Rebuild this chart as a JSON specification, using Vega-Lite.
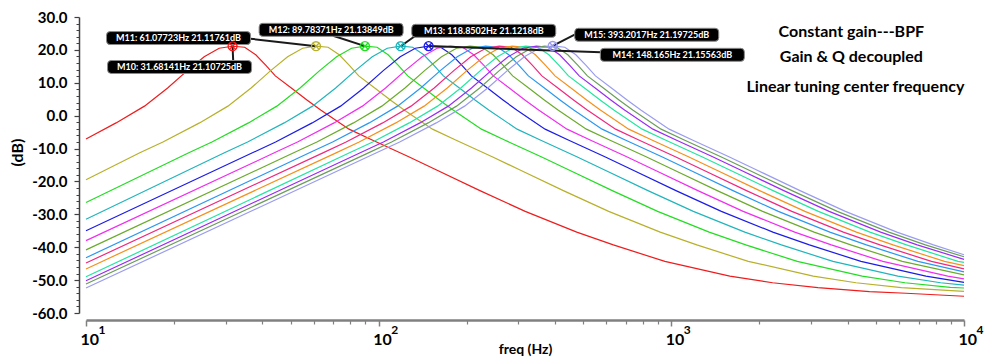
{
"$schema": "https://vega.github.io/schema/vega-lite/v6.json",
"width": 878, "height": 296,
"autosize": {"type": "none"},
"padding": {"left": 86, "top": 17, "right": 24, "bottom": 47},
"background": "white",
"config": {"view": {"stroke": null}, "font": "Lato", "axis": {"grid": false}},
"datasets": {
"curves": [
{"c":"c01","f":10,"db":-7.1},{"c":"c01","f":12.67,"db":-2.2},{"c":"c01","f":15.84,"db":2.9},{"c":"c01","f":19.01,"db":8.4},{"c":"c01","f":22.18,"db":13.7},{"c":"c01","f":25.34,"db":17.9},{"c":"c01","f":28.51,"db":20.5},{"c":"c01","f":31.68,"db":21.11},{"c":"c01","f":34.85,"db":20.8},{"c":"c01","f":38.02,"db":18.5},{"c":"c01","f":41.18,"db":15.3},{"c":"c01","f":44.35,"db":12.1},{"c":"c01","f":50.69,"db":8.2},{"c":"c01","f":57.02,"db":4.7},{"c":"c01","f":63.36,"db":1.7},{"c":"c01","f":79.2,"db":-4.1},{"c":"c01","f":95.04,"db":-7.4},{"c":"c01","f":126.7,"db":-12.5},{"c":"c01","f":158.4,"db":-16.6},{"c":"c01","f":221.8,"db":-22.8},{"c":"c01","f":316.8,"db":-29.1},{"c":"c01","f":475.2,"db":-35.4},{"c":"c01","f":633.6,"db":-39.3},{"c":"c01","f":950.4,"db":-44.3},{"c":"c01","f":1584,"db":-48.8},{"c":"c01","f":2218,"db":-50.8},{"c":"c01","f":3168,"db":-52.3},{"c":"c01","f":4752,"db":-53.5},{"c":"c01","f":6336,"db":-54.0},{"c":"c01","f":10000,"db":-54.9},
{"c":"c02","f":10,"db":-19.5},{"c":"c02","f":15.27,"db":-11.3},{"c":"c02","f":18.32,"db":-8.0},{"c":"c02","f":24.43,"db":-2.2},{"c":"c02","f":30.54,"db":2.9},{"c":"c02","f":36.65,"db":8.4},{"c":"c02","f":42.76,"db":13.7},{"c":"c02","f":48.86,"db":17.9},{"c":"c02","f":54.97,"db":20.5},{"c":"c02","f":61.08,"db":21.12},{"c":"c02","f":67.19,"db":20.8},{"c":"c02","f":73.3,"db":18.5},{"c":"c02","f":79.4,"db":15.3},{"c":"c02","f":85.51,"db":12.1},{"c":"c02","f":97.73,"db":8.2},{"c":"c02","f":109.9,"db":4.7},{"c":"c02","f":122.2,"db":1.7},{"c":"c02","f":152.7,"db":-4.1},{"c":"c02","f":183.2,"db":-7.4},{"c":"c02","f":244.3,"db":-12.5},{"c":"c02","f":305.4,"db":-16.6},{"c":"c02","f":427.6,"db":-22.8},{"c":"c02","f":610.8,"db":-29.1},{"c":"c02","f":916.2,"db":-35.4},{"c":"c02","f":1222,"db":-39.3},{"c":"c02","f":1832,"db":-44.3},{"c":"c02","f":3054,"db":-48.8},{"c":"c02","f":4276,"db":-50.8},{"c":"c02","f":6108,"db":-52.3},{"c":"c02","f":10000,"db":-53.4},
{"c":"c03","f":10,"db":-26.4},{"c":"c03","f":22.45,"db":-11.3},{"c":"c03","f":26.93,"db":-8.0},{"c":"c03","f":35.91,"db":-2.2},{"c":"c03","f":44.89,"db":2.9},{"c":"c03","f":53.87,"db":8.4},{"c":"c03","f":62.85,"db":13.7},{"c":"c03","f":71.82,"db":17.9},{"c":"c03","f":80.8,"db":20.5},{"c":"c03","f":89.78,"db":21.14},{"c":"c03","f":98.76,"db":20.8},{"c":"c03","f":107.7,"db":18.5},{"c":"c03","f":116.7,"db":15.3},{"c":"c03","f":125.7,"db":12.1},{"c":"c03","f":143.6,"db":8.2},{"c":"c03","f":161.6,"db":4.7},{"c":"c03","f":179.6,"db":1.7},{"c":"c03","f":224.5,"db":-4.1},{"c":"c03","f":269.3,"db":-7.4},{"c":"c03","f":359.1,"db":-12.5},{"c":"c03","f":448.9,"db":-16.6},{"c":"c03","f":628.5,"db":-22.8},{"c":"c03","f":897.8,"db":-29.1},{"c":"c03","f":1347,"db":-35.4},{"c":"c03","f":1796,"db":-39.3},{"c":"c03","f":2693,"db":-44.3},{"c":"c03","f":4489,"db":-48.8},{"c":"c03","f":6285,"db":-50.8},{"c":"c03","f":8978,"db":-52.2},{"c":"c03","f":10000,"db":-52.4},
{"c":"c04","f":10,"db":-31.5},{"c":"c04","f":29.71,"db":-11.3},{"c":"c04","f":35.66,"db":-8.0},{"c":"c04","f":47.54,"db":-2.2},{"c":"c04","f":59.43,"db":2.9},{"c":"c04","f":71.31,"db":8.4},{"c":"c04","f":83.2,"db":13.7},{"c":"c04","f":95.08,"db":17.9},{"c":"c04","f":107,"db":20.5},{"c":"c04","f":118.85,"db":21.12},{"c":"c04","f":130.7,"db":20.8},{"c":"c04","f":142.6,"db":18.5},{"c":"c04","f":154.5,"db":15.3},{"c":"c04","f":166.4,"db":12.1},{"c":"c04","f":190.2,"db":8.2},{"c":"c04","f":213.9,"db":4.7},{"c":"c04","f":237.7,"db":1.7},{"c":"c04","f":297.1,"db":-4.1},{"c":"c04","f":356.6,"db":-7.4},{"c":"c04","f":475.4,"db":-12.5},{"c":"c04","f":594.3,"db":-16.6},{"c":"c04","f":832,"db":-22.8},{"c":"c04","f":1189,"db":-29.1},{"c":"c04","f":1783,"db":-35.4},{"c":"c04","f":2377,"db":-39.3},{"c":"c04","f":3566,"db":-44.3},{"c":"c04","f":5943,"db":-48.8},{"c":"c04","f":8320,"db":-50.8},{"c":"c04","f":10000,"db":-51.5},
{"c":"c05","f":10,"db":-35.0},{"c":"c05","f":37.04,"db":-11.3},{"c":"c05","f":44.45,"db":-8.0},{"c":"c05","f":59.27,"db":-2.2},{"c":"c05","f":74.09,"db":2.9},{"c":"c05","f":88.9,"db":8.4},{"c":"c05","f":103.7,"db":13.7},{"c":"c05","f":118.5,"db":17.9},{"c":"c05","f":133.4,"db":20.5},{"c":"c05","f":148.17,"db":21.16},{"c":"c05","f":163,"db":20.8},{"c":"c05","f":177.8,"db":18.5},{"c":"c05","f":192.6,"db":15.3},{"c":"c05","f":207.4,"db":12.1},{"c":"c05","f":237.1,"db":8.2},{"c":"c05","f":266.7,"db":4.7},{"c":"c05","f":296.3,"db":1.7},{"c":"c05","f":370.4,"db":-4.1},{"c":"c05","f":444.5,"db":-7.4},{"c":"c05","f":592.7,"db":-12.5},{"c":"c05","f":740.9,"db":-16.6},{"c":"c05","f":1037,"db":-22.8},{"c":"c05","f":1482,"db":-29.1},{"c":"c05","f":2223,"db":-35.4},{"c":"c05","f":2963,"db":-39.3},{"c":"c05","f":4445,"db":-44.3},{"c":"c05","f":7409,"db":-48.8},{"c":"c05","f":10000,"db":-50.7},
{"c":"c06","f":10,"db":-38.0},{"c":"c06","f":44,"db":-11.3},{"c":"c06","f":52.8,"db":-8.0},{"c":"c06","f":70.4,"db":-2.2},{"c":"c06","f":88,"db":2.9},{"c":"c06","f":105.6,"db":8.4},{"c":"c06","f":123.2,"db":13.7},{"c":"c06","f":140.8,"db":17.9},{"c":"c06","f":158.4,"db":20.5},{"c":"c06","f":176,"db":21.15},{"c":"c06","f":193.6,"db":20.8},{"c":"c06","f":211.2,"db":18.5},{"c":"c06","f":228.8,"db":15.3},{"c":"c06","f":246.4,"db":12.1},{"c":"c06","f":281.6,"db":8.2},{"c":"c06","f":316.8,"db":4.7},{"c":"c06","f":352,"db":1.7},{"c":"c06","f":440,"db":-4.1},{"c":"c06","f":528,"db":-7.4},{"c":"c06","f":704,"db":-12.5},{"c":"c06","f":880,"db":-16.6},{"c":"c06","f":1232,"db":-22.8},{"c":"c06","f":1760,"db":-29.1},{"c":"c06","f":2640,"db":-35.4},{"c":"c06","f":3520,"db":-39.3},{"c":"c06","f":5280,"db":-44.3},{"c":"c06","f":8800,"db":-48.8},{"c":"c06","f":10000,"db":-49.6},
{"c":"c07","f":10,"db":-40.8},{"c":"c07","f":51.25,"db":-11.3},{"c":"c07","f":61.5,"db":-8.0},{"c":"c07","f":82,"db":-2.2},{"c":"c07","f":102.5,"db":2.9},{"c":"c07","f":123,"db":8.4},{"c":"c07","f":143.5,"db":13.7},{"c":"c07","f":164,"db":17.9},{"c":"c07","f":184.5,"db":20.5},{"c":"c07","f":205,"db":21.15},{"c":"c07","f":225.5,"db":20.8},{"c":"c07","f":246,"db":18.5},{"c":"c07","f":266.5,"db":15.3},{"c":"c07","f":287,"db":12.1},{"c":"c07","f":328,"db":8.2},{"c":"c07","f":369,"db":4.7},{"c":"c07","f":410,"db":1.7},{"c":"c07","f":512.5,"db":-4.1},{"c":"c07","f":615,"db":-7.4},{"c":"c07","f":820,"db":-12.5},{"c":"c07","f":1025,"db":-16.6},{"c":"c07","f":1435,"db":-22.8},{"c":"c07","f":2050,"db":-29.1},{"c":"c07","f":3075,"db":-35.4},{"c":"c07","f":4100,"db":-39.3},{"c":"c07","f":6150,"db":-44.3},{"c":"c07","f":10000,"db":-48.4},
{"c":"c08","f":10,"db":-43.2},{"c":"c08","f":58,"db":-11.3},{"c":"c08","f":69.6,"db":-8.0},{"c":"c08","f":92.8,"db":-2.2},{"c":"c08","f":116,"db":2.9},{"c":"c08","f":139.2,"db":8.4},{"c":"c08","f":162.4,"db":13.7},{"c":"c08","f":185.6,"db":17.9},{"c":"c08","f":208.8,"db":20.5},{"c":"c08","f":232,"db":21.15},{"c":"c08","f":255.2,"db":20.8},{"c":"c08","f":278.4,"db":18.5},{"c":"c08","f":301.6,"db":15.3},{"c":"c08","f":324.8,"db":12.1},{"c":"c08","f":371.2,"db":8.2},{"c":"c08","f":417.6,"db":4.7},{"c":"c08","f":464,"db":1.7},{"c":"c08","f":580,"db":-4.1},{"c":"c08","f":696,"db":-7.4},{"c":"c08","f":928,"db":-12.5},{"c":"c08","f":1160,"db":-16.6},{"c":"c08","f":1624,"db":-22.8},{"c":"c08","f":2320,"db":-29.1},{"c":"c08","f":3480,"db":-35.4},{"c":"c08","f":4640,"db":-39.3},{"c":"c08","f":6960,"db":-44.3},{"c":"c08","f":10000,"db":-47.5},
{"c":"c09","f":10,"db":-44.8},{"c":"c09","f":64.5,"db":-11.3},{"c":"c09","f":77.4,"db":-8.0},{"c":"c09","f":103.2,"db":-2.2},{"c":"c09","f":129,"db":2.9},{"c":"c09","f":154.8,"db":8.4},{"c":"c09","f":180.6,"db":13.7},{"c":"c09","f":206.4,"db":17.9},{"c":"c09","f":232.2,"db":20.5},{"c":"c09","f":258,"db":21.15},{"c":"c09","f":283.8,"db":20.8},{"c":"c09","f":309.6,"db":18.5},{"c":"c09","f":335.4,"db":15.3},{"c":"c09","f":361.2,"db":12.1},{"c":"c09","f":412.8,"db":8.2},{"c":"c09","f":464.4,"db":4.7},{"c":"c09","f":516,"db":1.7},{"c":"c09","f":645,"db":-4.1},{"c":"c09","f":774,"db":-7.4},{"c":"c09","f":1032,"db":-12.5},{"c":"c09","f":1290,"db":-16.6},{"c":"c09","f":1806,"db":-22.8},{"c":"c09","f":2580,"db":-29.1},{"c":"c09","f":3870,"db":-35.4},{"c":"c09","f":5160,"db":-39.3},{"c":"c09","f":7740,"db":-44.3},{"c":"c09","f":10000,"db":-46.6},
{"c":"c10","f":10,"db":-46.6},{"c":"c10","f":71.5,"db":-11.3},{"c":"c10","f":85.8,"db":-8.0},{"c":"c10","f":114.4,"db":-2.2},{"c":"c10","f":143,"db":2.9},{"c":"c10","f":171.6,"db":8.4},{"c":"c10","f":200.2,"db":13.7},{"c":"c10","f":228.8,"db":17.9},{"c":"c10","f":257.4,"db":20.5},{"c":"c10","f":286,"db":21.15},{"c":"c10","f":314.6,"db":20.8},{"c":"c10","f":343.2,"db":18.5},{"c":"c10","f":371.8,"db":15.3},{"c":"c10","f":400.4,"db":12.1},{"c":"c10","f":457.6,"db":8.2},{"c":"c10","f":514.8,"db":4.7},{"c":"c10","f":572,"db":1.7},{"c":"c10","f":715,"db":-4.1},{"c":"c10","f":858,"db":-7.4},{"c":"c10","f":1144,"db":-12.5},{"c":"c10","f":1430,"db":-16.6},{"c":"c10","f":2002,"db":-22.8},{"c":"c10","f":2860,"db":-29.1},{"c":"c10","f":4290,"db":-35.4},{"c":"c10","f":5720,"db":-39.3},{"c":"c10","f":8580,"db":-44.3},{"c":"c10","f":10000,"db":-45.6},
{"c":"c11","f":10,"db":-49.0},{"c":"c11","f":79.5,"db":-11.3},{"c":"c11","f":95.4,"db":-8.0},{"c":"c11","f":127.2,"db":-2.2},{"c":"c11","f":159,"db":2.9},{"c":"c11","f":190.8,"db":8.4},{"c":"c11","f":222.6,"db":13.7},{"c":"c11","f":254.4,"db":17.9},{"c":"c11","f":286.2,"db":20.5},{"c":"c11","f":318,"db":21.15},{"c":"c11","f":349.8,"db":20.8},{"c":"c11","f":381.6,"db":18.5},{"c":"c11","f":413.4,"db":15.3},{"c":"c11","f":445.2,"db":12.1},{"c":"c11","f":508.8,"db":8.2},{"c":"c11","f":572.4,"db":4.7},{"c":"c11","f":636,"db":1.7},{"c":"c11","f":795,"db":-4.1},{"c":"c11","f":954,"db":-7.4},{"c":"c11","f":1272,"db":-12.5},{"c":"c11","f":1590,"db":-16.6},{"c":"c11","f":2226,"db":-22.8},{"c":"c11","f":3180,"db":-29.1},{"c":"c11","f":4770,"db":-35.4},{"c":"c11","f":6360,"db":-39.3},{"c":"c11","f":9540,"db":-44.3},{"c":"c11","f":10000,"db":-44.6},
{"c":"c12","f":10,"db":-50.2},{"c":"c12","f":86.5,"db":-11.3},{"c":"c12","f":103.8,"db":-8.0},{"c":"c12","f":138.4,"db":-2.2},{"c":"c12","f":173,"db":2.9},{"c":"c12","f":207.6,"db":8.4},{"c":"c12","f":242.2,"db":13.7},{"c":"c12","f":276.8,"db":17.9},{"c":"c12","f":311.4,"db":20.5},{"c":"c12","f":346,"db":21.15},{"c":"c12","f":380.6,"db":20.8},{"c":"c12","f":415.2,"db":18.5},{"c":"c12","f":449.8,"db":15.3},{"c":"c12","f":484.4,"db":12.1},{"c":"c12","f":553.6,"db":8.2},{"c":"c12","f":622.8,"db":4.7},{"c":"c12","f":692,"db":1.7},{"c":"c12","f":865,"db":-4.1},{"c":"c12","f":1038,"db":-7.4},{"c":"c12","f":1384,"db":-12.5},{"c":"c12","f":1730,"db":-16.6},{"c":"c12","f":2422,"db":-22.8},{"c":"c12","f":3460,"db":-29.1},{"c":"c12","f":5190,"db":-35.4},{"c":"c12","f":6920,"db":-39.3},{"c":"c12","f":10000,"db":-43.7},
{"c":"c13","f":10,"db":-51.2},{"c":"c13","f":92.25,"db":-11.3},{"c":"c13","f":110.7,"db":-8.0},{"c":"c13","f":147.6,"db":-2.2},{"c":"c13","f":184.5,"db":2.9},{"c":"c13","f":221.4,"db":8.4},{"c":"c13","f":258.3,"db":13.7},{"c":"c13","f":295.2,"db":17.9},{"c":"c13","f":332.1,"db":20.5},{"c":"c13","f":369,"db":21.15},{"c":"c13","f":405.9,"db":20.8},{"c":"c13","f":442.8,"db":18.5},{"c":"c13","f":479.7,"db":15.3},{"c":"c13","f":516.6,"db":12.1},{"c":"c13","f":590.4,"db":8.2},{"c":"c13","f":664.2,"db":4.7},{"c":"c13","f":738,"db":1.7},{"c":"c13","f":922.5,"db":-4.1},{"c":"c13","f":1107,"db":-7.4},{"c":"c13","f":1476,"db":-12.5},{"c":"c13","f":1845,"db":-16.6},{"c":"c13","f":2583,"db":-22.8},{"c":"c13","f":3690,"db":-29.1},{"c":"c13","f":5535,"db":-35.4},{"c":"c13","f":7380,"db":-39.3},{"c":"c13","f":10000,"db":-42.9},
{"c":"c14","f":10,"db":-52.4},{"c":"c14","f":98.3,"db":-11.3},{"c":"c14","f":118,"db":-8.0},{"c":"c14","f":157.3,"db":-2.2},{"c":"c14","f":196.6,"db":2.9},{"c":"c14","f":235.9,"db":8.4},{"c":"c14","f":275.2,"db":13.7},{"c":"c14","f":314.6,"db":17.9},{"c":"c14","f":353.9,"db":20.5},{"c":"c14","f":393.2,"db":21.2},{"c":"c14","f":432.5,"db":20.8},{"c":"c14","f":471.8,"db":18.5},{"c":"c14","f":511.2,"db":15.3},{"c":"c14","f":550.5,"db":12.1},{"c":"c14","f":629.1,"db":8.2},{"c":"c14","f":707.8,"db":4.7},{"c":"c14","f":786.4,"db":1.7},{"c":"c14","f":983,"db":-4.1},{"c":"c14","f":1180,"db":-7.4},{"c":"c14","f":1573,"db":-12.5},{"c":"c14","f":1966,"db":-16.6},{"c":"c14","f":2752,"db":-22.8},{"c":"c14","f":3932,"db":-29.1},{"c":"c14","f":5898,"db":-35.4},{"c":"c14","f":7864,"db":-39.3},{"c":"c14","f":10000,"db":-42.3}
],
"leaders": [
{"f":31.68,"db":21.11,"f2":31.9,"db2":14.8},
{"f":61.08,"db":21.12,"f2":36.4,"db2":23.4},
{"f":89.78,"db":21.14,"f2":69.9,"db2":24.3},
{"f":118.85,"db":21.12,"f2":135.1,"db2":24.6},
{"f":148.17,"db":21.16,"f2":1008,"db2":18.5},
{"f":393.2,"db":21.2,"f2":471,"db2":24.8}
],
"labels": [
{"f":20.88,"db":14.8,"t":"M10: 31.68141Hz 21.10725dB"},
{"f":20.71,"db":23.6,"t":"M11: 61.07723Hz 21.11761dB"},
{"f":68.8,"db":26.1,"t":"M12: 89.78371Hz 21.13849dB"},
{"f":228.6,"db":25.8,"t":"M13: 118.8502Hz 21.1218dB"},
{"f":1008,"db":18.5,"t":"M14: 148.165Hz 21.15563dB"},
{"f":824,"db":24.6,"t":"M15: 393.2017Hz 21.19725dB"}
],
"markers": [
{"m":"M10","f":31.68141,"db":21.10725,"c":"c01"},
{"m":"M11","f":61.07723,"db":21.11761,"c":"c02"},
{"m":"M12","f":89.78371,"db":21.13849,"c":"c03"},
{"m":"M13","f":118.8502,"db":21.1218,"c":"c04"},
{"m":"M14","f":148.165,"db":21.15563,"c":"c05"},
{"m":"M15","f":393.2017,"db":21.19725,"c":"c14"}
],
"notes": [
{"f":4121,"db":25.5,"t":"Constant gain---BPF"},
{"f":4121,"db":17.9,"t":"Gain & Q decoupled"},
{"f":4256,"db":8.65,"t":"Linear tuning center frequency"}
]
},
"resolve": {"axis": {"x": "independent", "y": "independent"}},
"layer": [
{
"data": {"name": "curves"},
"mark": {"type": "line", "strokeWidth": 1.2},
"encoding": {
"x": {"field": "f", "type": "quantitative",
"scale": {"type": "log", "domain": [10, 10000], "nice": false},
"axis": {"orient": "bottom", "offset": 7, "values": [10, 100, 1000, 10000], "labelExpr": "'10'", "labelFlush": false, "labelAlign": "left", "labelOffset": -6, "labelFont": "Lato", "labelFontWeight": "bold", "labelFontSize": 16, "labelColor": "black", "labelPadding": 5, "tickSize": 6, "tickColor": "#808080", "tickWidth": 1.5, "domainColor": "#808080", "domainWidth": 2.5, "title": "freq (Hz)", "titleFont": "Lato", "titleFontSize": 14, "titleFontWeight": "bold", "titleColor": "black", "titlePadding": -5}},
"y": {"field": "db", "type": "quantitative",
"scale": {"domain": [-60, 30], "nice": false, "zero": false},
"axis": {"orient": "left", "offset": 7, "values": [-60, -50, -40, -30, -20, -10, 0, 10, 20, 30], "labelExpr": "(datum.value < 0 ? '-' : '') + format(abs(datum.value), '.1f')", "labelFont": "Lato", "labelFontWeight": "bold", "labelFontSize": 15, "labelColor": "black", "labelPadding": 7, "tickSize": 5, "tickColor": "#404040", "tickWidth": 1.2, "domainColor": "#404040", "domainWidth": 1.5, "title": "(dB)", "titleFont": "Lato", "titleFontSize": 16, "titleFontWeight": "bold", "titleColor": "black", "titlePadding": 6, "titleY": 135}},
"color": {"field": "c", "type": "nominal", "legend": null,
"scale": {"domain": ["c01","c02","c03","c04","c05","c06","c07","c08","c09","c10","c11","c12","c13","c14"],
"range": ["#ee1c1c","#b8b02a","#22dd22","#20b5bd","#1c1ce8","#f02ef0","#6aab2c","#2a98f0","#f0287e","#f5901c","#22e6a0","#9a2af5","#6a9e5a","#9a9cf0"]}}
}
},
{
"data": {"name": "leaders"},
"mark": {"type": "rule", "color": "#1a1a1a", "strokeWidth": 2},
"encoding": {
"x": {"field": "f", "type": "quantitative", "scale": {"type": "log", "domain": [10, 10000], "nice": false},
"axis": {"orient": "bottom", "offset": 7, "values": [20,30,40,50,60,70,80,90,200,300,400,500,600,700,800,900,2000,3000,4000,5000,6000,7000,8000,9000], "labels": false, "domain": false, "tickSize": 4, "tickColor": "#808080", "tickWidth": 1.2, "title": null}},
"y": {"field": "db", "type": "quantitative", "scale": {"domain": [-60, 30], "nice": false, "zero": false},
"axis": {"orient": "left", "offset": 7, "values": [-58,-56,-54,-52,-48,-46,-44,-42,-38,-36,-34,-32,-28,-26,-24,-22,-18,-16,-14,-12,-8,-6,-4,-2,2,4,6,8,12,14,16,18,22,24,26,28], "labels": false, "domain": false, "tickSize": 3, "tickColor": "#404040", "tickWidth": 1, "title": null}},
"x2": {"field": "f2"},
"y2": {"field": "db2"}
}
},
{
"data": {"name": "labels"},
"mark": {"type": "point", "shape": "M-0.95,-0.09L0.95,-0.09Q1,-0.09 1,-0.04L1,0.04Q1,0.09 0.95,0.09L-0.95,0.09Q-1,0.09 -1,0.04L-1,-0.04Q-1,-0.09 -0.95,-0.09Z", "size": 20736, "filled": true, "fill": "black", "fillOpacity": 1, "stroke": "#8a8a8a", "strokeWidth": 1, "opacity": 1},
"encoding": {
"x": {"field": "f", "type": "quantitative", "scale": {"type": "log", "domain": [10, 10000], "nice": false},
"axis": {"orient": "bottom", "offset": 7, "values": [10, 100, 1000, 10000], "labelExpr": "datum.value == 10 ? '1' : datum.value == 100 ? '2' : datum.value == 1000 ? '3' : '4'", "labelFlush": false, "labelAlign": "left", "labelOffset": 12, "labelFont": "Lato", "labelFontWeight": "bold", "labelFontSize": 12, "labelColor": "black", "labelPadding": 4, "ticks": false, "tickSize": 0, "domain": false, "title": null}},
"y": {"field": "db", "type": "quantitative", "scale": {"domain": [-60, 30], "nice": false, "zero": false}, "axis": null}
}
},
{
"data": {"name": "labels"},
"mark": {"type": "text", "color": "white", "font": "Lato", "fontWeight": "bold", "fontSize": 9, "align": "center", "baseline": "middle"},
"encoding": {
"x": {"field": "f", "type": "quantitative", "scale": {"type": "log", "domain": [10, 10000], "nice": false}, "axis": null},
"y": {"field": "db", "type": "quantitative", "scale": {"domain": [-60, 30], "nice": false, "zero": false}, "axis": null},
"text": {"field": "t"}
}
},
{
"data": {"name": "markers"},
"mark": {"type": "point", "shape": "circle", "filled": false, "size": 80, "strokeWidth": 1.3, "opacity": 1},
"encoding": {
"x": {"field": "f", "type": "quantitative", "scale": {"type": "log", "domain": [10, 10000], "nice": false}, "axis": null},
"y": {"field": "db", "type": "quantitative", "scale": {"domain": [-60, 30], "nice": false, "zero": false}, "axis": null},
"color": {"field": "c", "type": "nominal", "legend": null}
}
},
{
"data": {"name": "markers"},
"mark": {"type": "point", "shape": "M-0.7,-0.7L0.7,0.7M-0.7,0.7L0.7,-0.7", "filled": false, "size": 80, "strokeWidth": 1.3, "opacity": 1},
"encoding": {
"x": {"field": "f", "type": "quantitative", "scale": {"type": "log", "domain": [10, 10000], "nice": false}, "axis": null},
"y": {"field": "db", "type": "quantitative", "scale": {"domain": [-60, 30], "nice": false, "zero": false}, "axis": null},
"color": {"field": "c", "type": "nominal", "legend": null}
}
},
{
"data": {"name": "notes"},
"mark": {"type": "text", "color": "black", "font": "Lato", "fontWeight": "bold", "fontSize": 16, "align": "center", "baseline": "middle"},
"encoding": {
"x": {"field": "f", "type": "quantitative", "scale": {"type": "log", "domain": [10, 10000], "nice": false}, "axis": null},
"y": {"field": "db", "type": "quantitative", "scale": {"domain": [-60, 30], "nice": false, "zero": false}, "axis": null},
"text": {"field": "t"}
}
}
]
}
